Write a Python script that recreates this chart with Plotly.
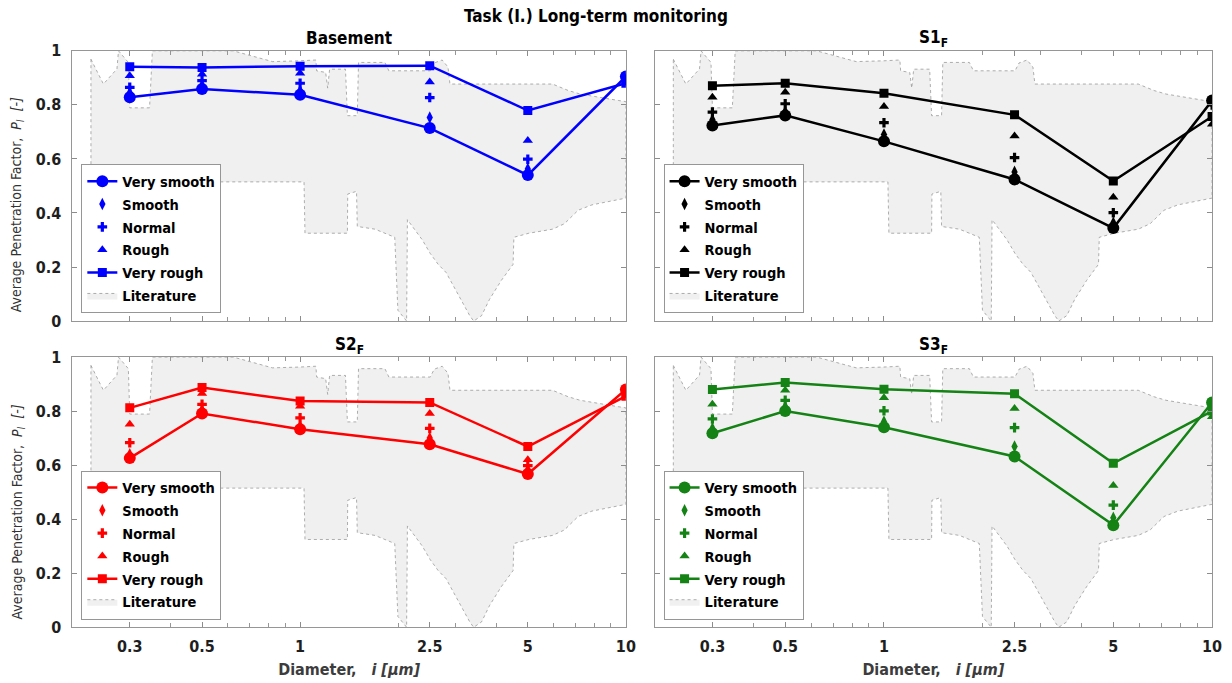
import plotly.graph_objects as go

# ---------------- data ----------------
diam = [0.3, 0.5, 1, 2.5, 5, 10]

basement_very_smooth = [0.828, 0.859, 0.837, 0.714, 0.540, 0.905]
basement_smooth      = [0.845, 0.872, 0.852, 0.753, 0.563, 0.895]
basement_normal      = [0.865, 0.890, 0.880, 0.827, 0.599, 0.890]
basement_rough       = [0.908, 0.913, 0.917, 0.885, 0.668, 0.882]
basement_very_rough  = [0.941, 0.938, 0.943, 0.945, 0.779, 0.880]

s1_very_smooth = [0.724, 0.761, 0.665, 0.524, 0.344, 0.816]
s1_smooth      = [0.745, 0.775, 0.690, 0.552, 0.364, 0.808]
s1_normal      = [0.773, 0.804, 0.734, 0.605, 0.401, 0.800]
s1_rough       = [0.828, 0.847, 0.794, 0.685, 0.458, 0.728]
s1_very_rough  = [0.871, 0.880, 0.843, 0.763, 0.518, 0.757]

s2_very_smooth = [0.626, 0.791, 0.733, 0.677, 0.567, 0.880]
s2_smooth      = [0.640, 0.804, 0.745, 0.700, 0.583, 0.875]
s2_normal      = [0.683, 0.825, 0.775, 0.736, 0.598, 0.868]
s2_rough       = [0.751, 0.865, 0.818, 0.791, 0.620, 0.862]
s2_very_rough  = [0.812, 0.887, 0.837, 0.832, 0.669, 0.855]

s3_very_smooth = [0.718, 0.800, 0.740, 0.632, 0.378, 0.832]
s3_smooth      = [0.736, 0.816, 0.761, 0.669, 0.405, 0.820]
s3_normal      = [0.771, 0.840, 0.801, 0.739, 0.452, 0.810]
s3_rough       = [0.825, 0.877, 0.849, 0.810, 0.525, 0.779]
s3_very_rough  = [0.880, 0.906, 0.881, 0.864, 0.607, 0.800]

# literature envelope (upper and lower boundary)
lit_upper_x = [0.228, 0.249, 0.274, 0.277, 0.297, 0.300, 0.345, 0.352, 0.623, 0.716,
               0.823, 1.000, 1.118, 1.124, 1.198, 1.215, 1.232, 1.378, 1.397, 1.498,
               1.511, 1.821, 1.873, 2.509, 2.580, 2.729, 2.844, 2.884, 5.955, 6.657,
               7.237, 9.511, 10.0]
lit_upper_y = [0.969, 0.877, 0.933, 1.000, 0.957, 0.789, 0.789, 1.000, 1.000, 0.980,
               0.960, 0.963, 0.966, 0.926, 0.920, 0.862, 0.932, 0.932, 0.760, 0.760,
               0.957, 0.957, 0.926, 0.926, 0.955, 0.966, 0.940, 0.877, 0.877, 0.853,
               0.840, 0.816, 0.812]
lit_lower_x = [0.228, 1.028, 1.035, 1.397, 1.400, 1.490, 1.498, 1.698, 1.952, 1.996,
               2.123, 2.135, 2.244, 2.373, 2.509, 2.653, 2.805, 3.050, 3.317, 3.410,
               3.606, 3.813, 4.144, 4.506, 4.531, 5.037, 5.955, 6.474, 7.136, 7.870,
               9.511, 10.0]
lit_lower_y = [0.515, 0.515, 0.325, 0.325, 0.470, 0.480, 0.350, 0.340, 0.310, 0.040,
               0.000, 0.375, 0.340, 0.300, 0.250, 0.210, 0.180, 0.100, 0.020, 0.000,
               0.020, 0.080, 0.150, 0.210, 0.310, 0.325, 0.340, 0.360, 0.410, 0.430,
               0.450, 0.455]

x_tickvals = [0.3, 0.5, 1, 2.5, 5, 10]
x_ticktext = ["0.3", "0.5", "1", "2.5", "5", "10"]
x_minorvals = [0.2, 0.4, 0.6, 0.7, 0.8, 0.9, 2, 3, 4, 6, 7, 8, 9]
y_tickvals = [0, 0.2, 0.4, 0.6, 0.8, 1]
y_ticktext = ["0", "0.2", "0.4", "0.6", "0.8", "1"]

series_names = ["Very smooth", "Smooth", "Normal", "Rough", "Very rough"]
panel_titles = ["Basement", "S1<sub>F</sub>", "S2<sub>F</sub>", "S3<sub>F</sub>"]
panel_colors = ["rgb(0,0,255)", "rgb(0,0,0)", "rgb(255,0,0)", "rgb(20,130,20)"]
panel_data = [
    [basement_very_smooth, basement_smooth, basement_normal, basement_rough, basement_very_rough],
    [s1_very_smooth, s1_smooth, s1_normal, s1_rough, s1_very_rough],
    [s2_very_smooth, s2_smooth, s2_normal, s2_rough, s2_very_rough],
    [s3_very_smooth, s3_smooth, s3_normal, s3_rough, s3_very_rough],
]
y_title = "Average Penetration Factor,  <i>P<sub>I</sub>  [-]</i>"
x_title = "Diameter,   <i>i [μm]</i>"
main_title = "Task (I.) Long-term monitoring"

# ---------------- layout helpers ----------------
W, H = 1232, 683
FONT = "Liberation Sans Narrow, DejaVu Sans Condensed, Roboto Condensed, Arial Narrow, sans-serif"

# pixel boxes (left, right, top, bottom)
boxes = [(73, 631, 43, 321), (660, 1222, 43, 321), (73, 631, 358, 636), (660, 1222, 358, 636)]
ytitle_centers = [201, None, 517, None]

lit_x = lit_upper_x + lit_lower_x[::-1] + [lit_upper_x[0]]
lit_y = lit_upper_y + lit_lower_y[::-1] + [lit_upper_y[0]]

markers = [
    dict(symbol="circle", size=12),
    dict(symbol="diamond-tall", size=9),
    dict(symbol="cross", size=8),
    dict(symbol="triangle-up", size=9),
    dict(symbol="square", size=9),
]
modes = ["lines+markers", "markers", "markers", "markers", "lines+markers"]

fig = go.Figure()
layout = dict(
    width=W, height=H, autosize=False,
    margin=dict(l=0, r=0, t=0, b=0),
    paper_bgcolor="white", plot_bgcolor="white",
    font=dict(family=FONT, color="rgb(30,30,30)"),
    annotations=[],
)

for i in range(4):
    l, r, t, b = boxes[i]
    xa = "x" if i == 0 else f"x{i+1}"
    ya = "y" if i == 0 else f"y{i+1}"
    lg = "legend" if i == 0 else f"legend{i+1}"
    color = panel_colors[i]

    fig.add_trace(go.Scatter(
        x=lit_x, y=lit_y, mode="lines", fill="toself",
        fillcolor="rgb(240,240,240)",
        line=dict(color="rgb(140,140,140)", width=0.7, dash="dot"),
        name="Literature", xaxis=xa, yaxis=ya, legend=lg, legendrank=6,
        legendgroup=f"p{i}lit", hoverinfo="skip",
    ))
    for k, name in enumerate(series_names):
        fig.add_trace(go.Scatter(
            x=diam, y=panel_data[i][k], mode=modes[k], name=name,
            marker=dict(color=color, **markers[k]),
            line=dict(color=color, width=2.5),
            xaxis=xa, yaxis=ya, legend=lg, legendrank=k + 1,
            legendgroup=f"p{i}s{k}",
        ))

    bottom_row = i >= 2
    left_col = i % 2 == 0
    xkey = "xaxis" if i == 0 else f"xaxis{i+1}"
    ykey = "yaxis" if i == 0 else f"yaxis{i+1}"
    xaxis = dict(
        domain=[l / W, r / W], anchor=ya, type="log",
        range=[-0.69897, 1.0],
        tickmode="array", tickvals=x_tickvals, ticktext=x_ticktext,
        showticklabels=bottom_row, ticklabelstandoff=4,
        ticks="inside", ticklen=5, tickcolor="rgb(140,140,140)",
        minor=dict(tickmode="array", tickvals=x_minorvals, ticks="inside",
                   ticklen=4, tickcolor="rgb(150,150,150)", showgrid=False),
        showline=True, linecolor="rgb(150,150,150)", linewidth=1, mirror="ticks",
        showgrid=False, zeroline=False,
        tickfont=dict(family=FONT, size=16, weight="bold", color="rgb(30,30,30)"),
    )
    if bottom_row:
        xaxis["title"] = dict(text=x_title,
                              font=dict(family=FONT, size=16, weight="bold", color="rgb(60,60,60)"),
                              standoff=9)
    layout[xkey] = xaxis
    layout[ykey] = dict(
        domain=[1 - b / H, 1 - t / H], anchor=xa,
        range=[0, 1],
        tickmode="array", tickvals=y_tickvals, ticktext=y_ticktext,
        showticklabels=left_col, ticklabelstandoff=7,
        ticks="inside", ticklen=5, tickcolor="rgb(140,140,140)",
        showline=True, linecolor="rgb(150,150,150)", linewidth=1, mirror="ticks",
        showgrid=False, zeroline=False,
        tickfont=dict(family=FONT, size=16, weight="bold", color="rgb(30,30,30)"),
    )
    if left_col:
        layout["annotations"].append(dict(
            text=y_title, x=18 / W, y=1 - ytitle_centers[i] / H,
            xref="paper", yref="paper", xanchor="center", yanchor="middle",
            textangle=-90, showarrow=False,
            font=dict(family=FONT, size=14, color="rgb(50,50,50)"),
        ))
    layout[lg] = dict(
        x=(l + 9) / W, y=1 - (b - 8) / H, xanchor="left", yanchor="bottom",
        bgcolor="white", bordercolor="rgb(150,150,150)", borderwidth=1,
        font=dict(family=FONT, size=14.5, weight="bold", color="black"),
        tracegroupgap=1, itemwidth=30,
    )
    layout["annotations"].append(dict(
        text=panel_titles[i], x=(l + r) / 2 / W,
        y=1 - (30 if i < 2 else 346) / H,
        xref="paper", yref="paper", xanchor="center", yanchor="middle",
        showarrow=False, font=dict(family=FONT, size=17, weight="bold", color="black"),
    ))

layout["annotations"].append(dict(
    text=main_title, x=601 / W, y=1 - 7 / H,
    xref="paper", yref="paper", xanchor="center", yanchor="middle",
    showarrow=False, font=dict(family=FONT, size=17, weight="bold", color="black"),
))

fig.update_layout(**layout)
fig.write_html("out.html")
